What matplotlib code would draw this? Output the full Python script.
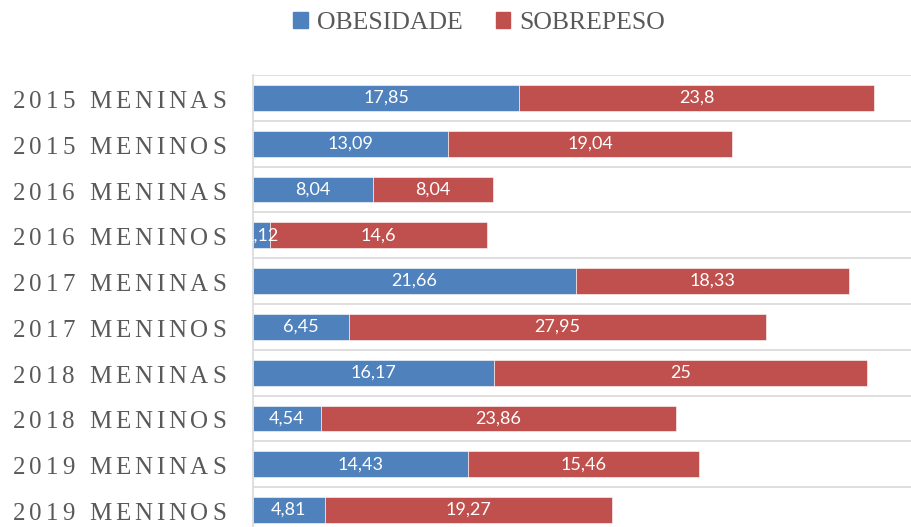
import matplotlib
matplotlib.use("Agg")
import matplotlib.pyplot as plt
from matplotlib.font_manager import FontProperties
from matplotlib.textpath import TextToPath
from matplotlib.patches import Patch
import numpy as np

# data
categorias = ["2015 MENINAS", "2015 MENINOS", "2016 MENINAS", "2016 MENINOS",
              "2017 MENINAS", "2017 MENINOS", "2018 MENINAS", "2018 MENINOS",
              "2019 MENINAS", "2019 MENINOS"]
obesidade = [17.85, 13.09, 8.04, 1.12, 21.66, 6.45, 16.17, 4.54, 14.43, 4.81]
sobrepeso = [23.8, 19.04, 8.04, 14.6, 18.33, 27.95, 25, 23.86, 15.46, 19.27]

azul = "#4F81BD"
vermelho = "#C0504D"
cinza = "#595959"

def fmt(v):
    return ("%g" % v).replace(".", ",")

fig = plt.figure(figsize=(9.11, 5.27), dpi=100)
ax = fig.add_axes([253/911, -6/527, 658/911, 458/527])

y = np.arange(len(categorias))
b1 = ax.barh(y, obesidade, height=0.56, color=azul, edgecolor="white", linewidth=0.4)
b2 = ax.barh(y, sobrepeso, left=obesidade, height=0.56, color=vermelho,
             edgecolor="white", linewidth=0.4)

lab_font = dict(family="Lato", size=13, color="white")
ax.bar_label(b1, labels=[fmt(v) for v in obesidade], label_type="center", **lab_font)
ax.bar_label(b2, labels=[fmt(v) for v in sobrepeso], label_type="center", **lab_font)

ax.set_xlim(0, 658/14.91)
ax.set_ylim(len(categorias) - 0.5, -0.5)

# separators between categories
ax.set_yticks(np.arange(-0.5, len(categorias)), minor=True)
ax.set_yticks([])
ax.set_xticks([])
ax.grid(True, which="minor", axis="y", color="#d9d9d9", linewidth=1.2)
ax.tick_params(which="both", length=0)
for s in ["top", "right", "bottom"]:
    ax.spines[s].set_visible(False)
ax.spines["left"].set_color("#d9d9d9")
ax.spines["left"].set_linewidth(1.2)
ax.set_axisbelow(True)

# category labels with letter spacing, drawn char by char
prop = FontProperties(family="Liberation Serif", size=18)
t2p = TextToPath()
espaco = 2.8  # points between letters
for yi, nome in zip(y, categorias):
    larg = [t2p.get_text_width_height_descent(c, prop, ismath=False)[0] for c in nome]
    total = sum(larg) + espaco * (len(nome) - 1)
    x0 = -27 * 72 / 100 - total
    for c, w in zip(nome, larg):
        ax.annotate(c, xy=(0, yi), xycoords=("axes fraction", "data"),
                    xytext=(x0, -7.2), textcoords="offset points",
                    ha="left", va="baseline", fontproperties=prop, color=cinza,
                    annotation_clip=False)
        x0 += w + espaco

handles = [Patch(color=azul), Patch(color=vermelho)]
fig.legend(handles, ["OBESIDADE", "SOBREPESO"], loc="center",
           bbox_to_anchor=(479/911, 1 - 23/527), ncol=2, frameon=False,
           prop=FontProperties(family="Liberation Serif", size=18.5),
           labelcolor=cinza, handlelength=0.55, handleheight=0.55,
           handletextpad=0.35, columnspacing=1.3)

fig.savefig("out.png", dpi=100)
